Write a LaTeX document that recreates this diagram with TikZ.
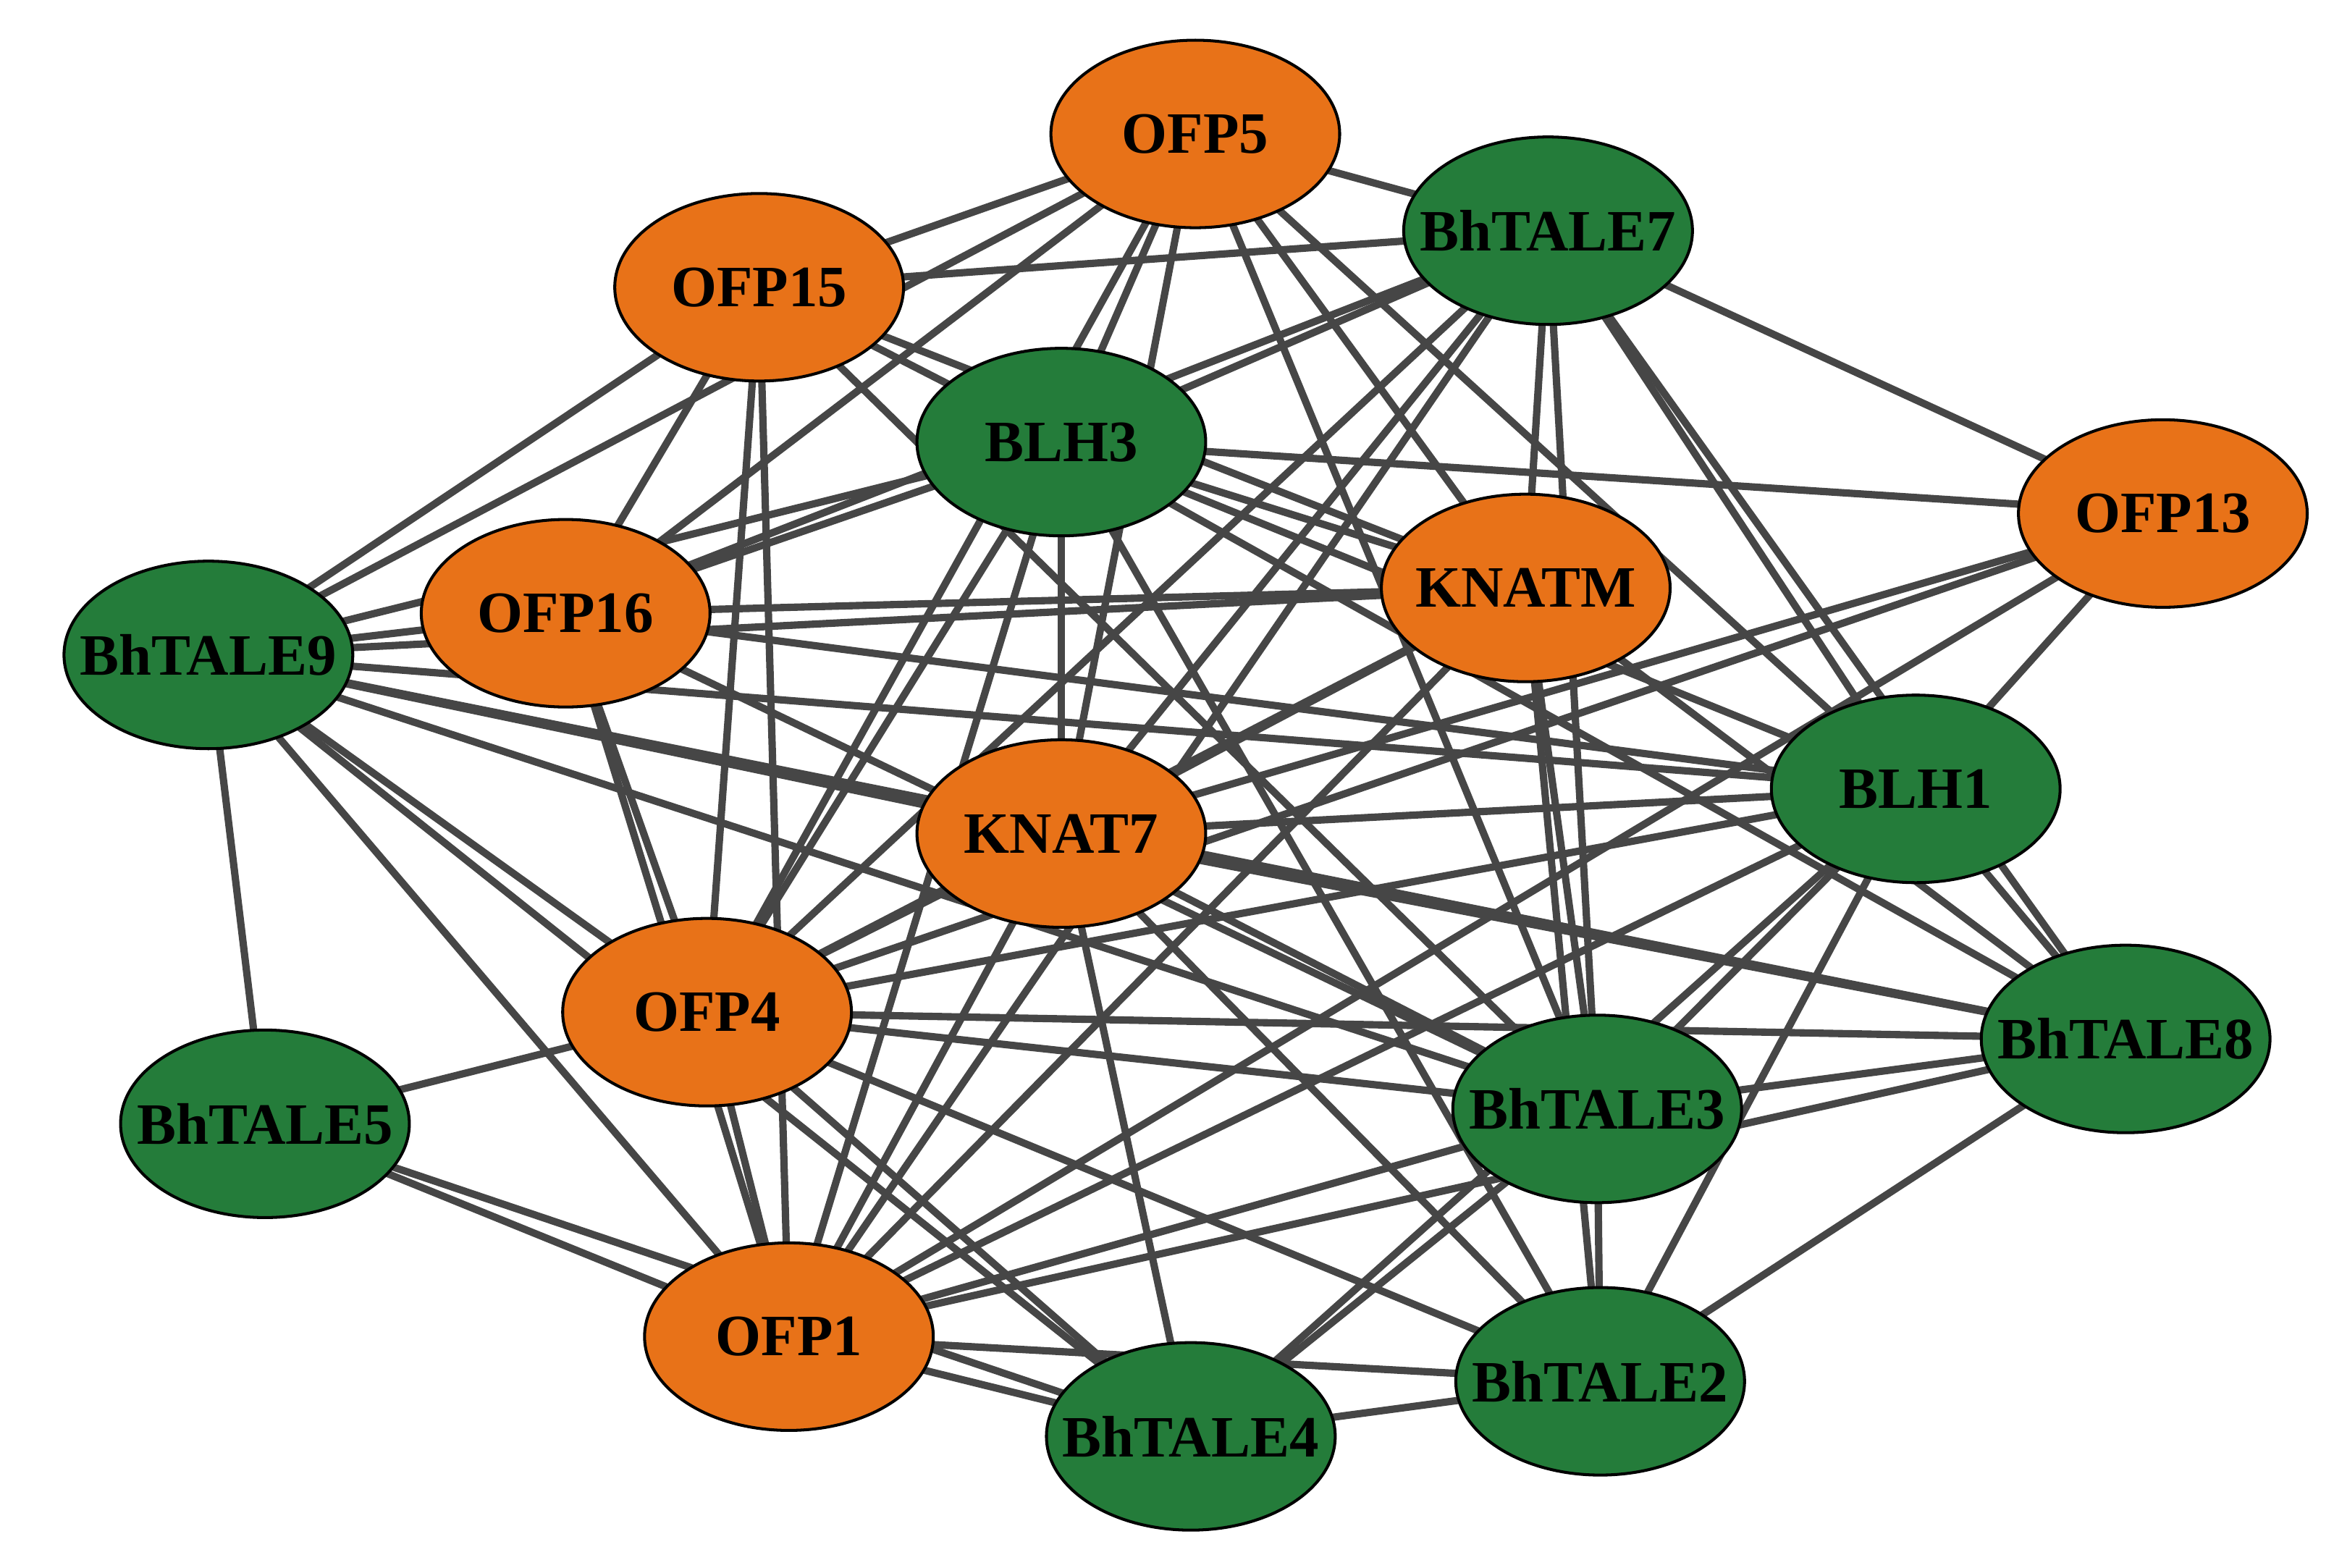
\documentclass[tikz,border=0pt]{standalone}
\usepackage{fontspec}
\setmainfont{Liberation Serif}
\usetikzlibrary{shapes.geometric,backgrounds}
\definecolor{og}{RGB}{232,114,24}
\definecolor{gr}{RGB}{36,124,58}
\definecolor{ed}{RGB}{70,70,70}
\begin{document}
\begin{tikzpicture}[x=0.05cm,y=-0.05cm,
 n/.style={ellipse,draw=black,line width=2.8pt,minimum width=9.7cm,minimum height=6.3cm,inner xsep=-1.25cm,inner ysep=0pt,font=\fontsize{56}{60}\selectfont\bfseries},
 o/.style={n,fill=og},g/.style={n,fill=gr},
 e/.style={draw=ed,line width=7pt}]
\useasboundingbox (0,0) rectangle (1568,1053);
\node[o] (OFP5) at (803,90) {OFP5};
\node[g] (T7) at (1040,155) {BhTALE7};
\node[o] (OFP15) at (510,193) {OFP15};
\node[g] (BLH3) at (713,297) {BLH3};
\node[o] (OFP13) at (1453,345) {OFP13};
\node[o] (KNATM) at (1025,395) {KNATM};
\node[o] (OFP16) at (380,412) {OFP16};
\node[g] (T9) at (140,440) {BhTALE9};
\node[g] (BLH1) at (1287,530) {BLH1};
\node[o] (KNAT7) at (713,560) {KNAT7};
\node[o] (OFP4) at (475,680) {OFP4};
\node[g] (T8) at (1428,698) {BhTALE8};
\node[g] (T5) at (178,755) {BhTALE5};
\node[g] (T3) at (1073,745) {BhTALE3};
\node[o] (OFP1) at (530,898) {OFP1};
\node[g] (T2) at (1075,928) {BhTALE2};
\node[g] (T4) at (800,965) {BhTALE4};
\begin{pgfonlayer}{background}
\foreach \a/\b in {OFP5/OFP15,OFP5/T7,OFP5/BLH3,OFP5/OFP16,OFP5/T9,OFP5/KNATM,OFP5/BLH1,OFP5/KNAT7,OFP5/OFP4,OFP5/T3,
T7/OFP15,T7/BLH3,T7/OFP13,T7/KNATM,T7/OFP16,T7/BLH1,T7/KNAT7,T7/OFP4,T7/OFP1,T7/T8,T7/T3,
OFP15/BLH3,OFP15/KNATM,OFP15/OFP16,OFP15/T9,OFP15/OFP4,OFP15/OFP1,OFP15/T3,
BLH3/OFP13,BLH3/KNATM,BLH3/OFP16,BLH3/T9,BLH3/BLH1,BLH3/KNAT7,BLH3/OFP4,BLH3/OFP1,BLH3/T2,BLH3/T8,
OFP13/KNAT7,OFP13/OFP4,OFP13/BLH1,OFP13/OFP1,
KNATM/OFP16,KNATM/T9,KNATM/KNAT7,KNATM/OFP4,KNATM/T3,KNATM/T2,KNATM/T8,KNATM/OFP1,
OFP16/T9,OFP16/BLH1,OFP16/OFP4,OFP16/T3,OFP16/OFP1,
T9/BLH1,T9/KNAT7,T9/OFP4,T9/T5,T9/OFP1,T9/T3,T9/T4,T9/T8,
BLH1/KNAT7,BLH1/OFP4,BLH1/T3,BLH1/T2,BLH1/T8,BLH1/OFP1,BLH1/T4,
KNAT7/OFP4,KNAT7/OFP1,KNAT7/T3,KNAT7/T2,KNAT7/T4,KNAT7/T8,
OFP4/T5,OFP4/OFP1,OFP4/T3,OFP4/T8,OFP4/T2,OFP4/T4,
T5/OFP1,T5/T4,OFP1/T4,OFP1/T3,OFP1/T8,OFP1/T2,
T3/T2,T3/T4,T3/T8,T2/T4,T2/T8}
{\draw[e] (\a.center) -- (\b.center);}
\end{pgfonlayer}
\end{tikzpicture}
\end{document}
